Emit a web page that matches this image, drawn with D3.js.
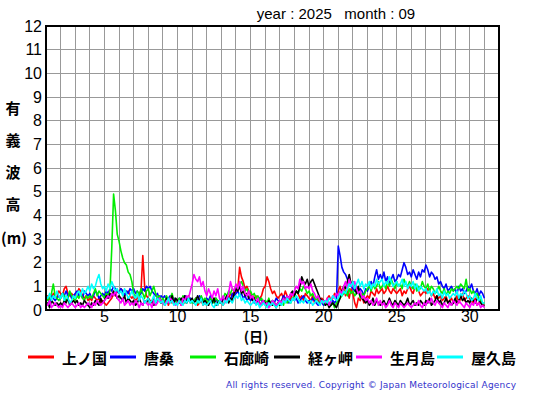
<!DOCTYPE html>
<html><head><meta charset="utf-8">
<script src="https://cdn.jsdelivr.net/npm/d3@7"></script>
<style>body{margin:0;background:#fff}svg{display:block}</style>
</head><body>
<svg id="c" width="555" height="395"></svg>
<script>
const stations = ["上ノ国","唐桑","石廊崎","経ヶ岬","生月島","屋久島"];
const colors = ["#ff0000","#0000ff","#00ee00","#000000","#ff00ff","#00ffff"];
const xTicks = [5,10,15,20,25,30];
const yTicks = [0,1,2,3,4,5,6,7,8,9,10,11,12];
const stepsPerDay = 8;
// significant wave height (m), every 3 hours from day 1 00h
const kaminokuni = [
.5,.6,.4,.5,.7,.6,.5,.8, .7,.6,.9,1.0,.7,.6,.7,.6, .6,.7,.9,.8,.6,.5,.6,.4, .5,.4,.6,.5,.4,.5,.3,.4,
.3,.2,.3,.4,.5,.7,.6,.8, .7,.9,.8,.6,.7,.8,.6,.5, .6,.4,.5,.7,.8,2.3,1.0,.6, .5,.4,.3,.5,.2,.4,.6,.3,
.4,.3,.5,.2,.4,.3,.5,.4, .3,.4,.2,.5,.3,.4,.6,.3, .4,.3,.5,.2,.3,.4,.2,.3, .2,.3,.4,.3,.5,.3,.2,.4,
.3,.2,.4,.6,.5,.7,.6,.8, .7,.9,1.8,1.4,1.2,.9,1.0,.8, .7,.6,.5,.6,.4,.5,.6,.9, 1.0,1.4,1.2,.9,.7,.8,.6,.5,
.6,.7,.5,.8,.6,.4,.5,.7, .6,.8,.7,.5,.6,.4,.7,.6, .5,.4,.6,.3,.5,.4,.3,.5, .4,.3,.5,.6,.4,.5,.7,.6,
.8,1.0,.7,.9,.6,.8,.5,.9, .7,.3,.1,.5,.4,.6,.3,.5, .6,.5,.8,.7,.6,.9,.7,.8, .9,.7,.8,1.0,.8,.7,.9,.8,
.7,.8,.9,.6,.8,.7,.9,1.0, .8,.7,1.0,.9,.8,.6,.7,.8, .7,.9,.8,.6,.7,.5,.6,.5, .6,.4,.5,.6,.3,.4,.5,.3,
.4,.6,.3,.5,.7,.4,.5,.6, .5,.4,.3,.5,.2,.3,.4,.2, .2];
const karakuwa = [
.4,.5,.3,.6,.5,.4,.5,.6, .5,.7,.6,.8,.6,.7,.5,.6, .7,.8,.6,.7,.5,.8,.7,.6, .7,.5,.6,.8,.7,.5,.6,.7,
.6,.8,.7,.9,.8,1.0,.9,.8, .7,.9,.8,.6,.8,.7,.9,.8, .9,.7,.8,.6,.7,.9,.8,1.0, .9,1.0,.8,.7,.6,.7,.5,.6,
.5,.6,.4,.5,.6,.4,.5,.3, .4,.5,.3,.4,.6,.5,.4,.5, .4,.3,.5,.4,.6,.5,.4,.3, .5,.4,.6,.3,.4,.5,.3,.4,
.3,.5,.4,.6,.5,.4,.7,.6, .7,.8,.6,.7,.5,.6,.4,.5, .4,.5,.3,.4,.3,.5,.4,.3, .4,.3,.2,.3,.4,.3,.5,.4,
.3,.4,.6,.5,.4,.3,.4,.5, .4,.5,.3,.4,.5,.6,.4,.3, .4,.3,.5,.4,.3,.2,.4,.3, .2,.3,.4,.3,.2,.4,.3,.4,
2.7,2.3,1.8,1.6,1.5,1.3,1.1,1.0, .9,.8,1.0,.7,.9,.8,.6,.9, .8,1.0,1.2,1.0,1.4,1.7,1.3,1.5, 1.3,1.6,1.2,1.4,1.1,1.3,1.5,1.2,
1.3,1.5,1.4,1.7,2.0,1.8,1.5,1.6, 1.4,1.7,1.5,1.3,1.6,1.4,1.7,1.6, 1.9,1.7,1.4,1.6,1.5,1.3,1.4,1.1, 1.2,1.0,.9,1.1,.8,.9,1.0,.8,
.9,.7,1.0,.8,.9,.7,.8,1.0, .9,1.1,.8,.7,.9,.6,.8,.7, .5];
const irozaki = [
.6,.4,.5,.7,1.1,.6,.5,.4, .5,.7,.6,.4,.5,.8,.6,.5, .4,.6,.5,.7,.5,.4,.6,.5, .6,.5,.7,.9,.6,.8,.7,.6,
.5,.7,.6,.8,2.6,4.9,4.2,3.2, 2.9,2.5,2.2,2.0,1.9,1.6,1.5,1.2, .7,.5,.8,.6,.9,.7,.5,.8, .9,.6,.8,1.0,.7,.5,.6,.4,
.5,.3,.6,.4,.5,.7,.4,.3, .4,.5,.3,.6,.4,.3,.5,.4, .3,.4,.5,.3,.4,.6,.4,.5, .4,.3,.5,.4,.3,.5,.4,.3,
.4,.5,.7,.6,.8,.7,.9,.8, 1.0,.9,1.1,1.2,1.0,.8,.9,.7, .8,.6,.7,.5,.6,.4,.5,.3, .4,.3,.5,.2,.4,.3,.2,.3,
.3,.4,.2,.5,.3,.4,.3,.5, .6,.8,.7,.9,.8,1.0,.9,.7, .8,.6,.7,.5,.4,.6,.3,.4, .3,.2,.4,.3,.2,.3,.1,.3,
.4,.5,.6,.7,.8,.6,.9,.7, .8,.6,.7,.9,.5,.7,.6,.8, .9,1.0,.8,1.1,.9,1.0,1.2,.9, 1.0,1.1,.9,1.2,1.0,1.3,1.1,.9,
1.2,1.0,1.1,.9,1.3,1.1,1.0,1.2, 1.0,.9,1.1,.8,1.0,.9,1.2,1.0, .9,1.1,.8,1.0,.9,.7,.8,1.0, .8,.7,.9,.6,.8,.7,.9,.8,
.9,1.0,.9,1.1,1.0,.9,1.3,.8, .9,.7,.8,.6,.7,.5,.4,.3, .3];
const kyogamisaki = [
.2,.3,.1,.4,.3,.2,.3,.2, .3,.2,.4,.3,.5,.2,.3,.4, .3,.4,.2,.3,.2,.4,.3,.2, .1,.3,.2,.4,.3,.2,.5,.3,
.4,.6,.5,.7,.6,.8,.7,.5, .6,.5,.4,.6,.3,.5,.4,.3, .4,.2,.3,.5,.3,.2,.4,.3, .5,.3,.4,.2,.3,.5,.4,.3,
.4,.2,.5,.3,.4,.6,.3,.5, .4,.3,.5,.4,.6,.3,.5,.4, .5,.3,.4,.6,.4,.5,.3,.4, .3,.2,.4,.3,.5,.2,.3,.4,
.3,.5,.4,.6,.3,.5,.4,.7, .9,.8,1.0,.7,.8,.6,.7,.5, .6,.4,.5,.3,.4,.3,.2,.4, .3,.2,.4,.3,.2,.3,.1,.3,
.2,.3,.5,.4,.6,.5,.7,.8, .6,.8,.7,1.0,1.4,1.2,1.1,1.3, 1.0,1.2,1.3,1.1,.9,.7,.5,.4, .4,.2,.3,.1,.2,.3,.2,.1,
.3,.5,.8,1.0,.9,1.2,1.5,1.1, 1.2,.9,.7,1.0,.6,.5,.4,.3, .4,.2,.3,.5,.2,.4,.3,.2, .3,.4,.2,.3,.5,.3,.2,.4,
.3,.2,.4,.3,.2,.3,.5,.2, .3,.4,.2,.3,.2,.4,.3,.2, .4,.3,.5,.2,.3,.4,.6,.3, .4,.2,.3,.5,.3,.4,.2,.3,
.5,.3,.4,.6,.4,.5,.3,.4, .3,.5,.4,.3,.5,.4,.3,.2, .2];
const ikitsukishima = [
.3,.2,.4,.1,.2,.3,.2,.1, .2,.1,.3,.2,.1,.2,.3,.2, .1,.2,.3,.1,.2,.1,.2,.3, .2,.1,.3,.2,.4,.3,.2,.3,
.4,.5,.6,.5,.7,.6,.8,.5, .4,.3,.5,.2,.3,.4,.2,.3, .2,.4,.3,.1,.3,.2,.4,.3, .2,.3,.1,.4,.2,.3,.5,.4,
.3,.2,.4,.3,.5,.4,.3,.2, .3,.4,.2,.5,.4,.6,.5,.8, 1.1,1.5,1.3,1.2,1.4,1.0,1.2,.8, .6,.9,.7,.5,.8,.6,.9,.5,
.4,.6,.3,.5,.7,1.2,.9,.8, 1.1,.9,1.2,.8,1.0,.7,.6,.8, .5,.6,.4,.3,.5,.2,.3,.4, .2,.3,.1,.2,.4,.3,.2,.3,
.4,.3,.5,.4,.6,.5,.7,.6, .8,1.0,.9,1.3,1.1,1.2,.9,1.0, .9,1.1,.8,.7,.5,.6,.4,.3, .4,.3,.5,.2,.4,.6,.5,.7,
.6,.8,.7,1.0,1.2,.9,1.3,1.1, 1.0,1.2,.9,.7,.8,.5,.6,.4, .5,.3,.4,.2,.3,.5,.2,.4, .2,.3,.1,.2,.4,.2,.1,.3,
.2,.1,.3,.2,.1,.2,.3,.2, .1,.2,.3,.2,.4,.2,.1,.3, .2,.4,.3,.5,.3,.2,.4,.3, .2,.1,.3,.2,.1,.3,.2,.4,
.3,.2,.4,.3,.2,.1,.3,.2, .1,.3,.2,.4,.2,.3,.1,.2, .1];
const yakushima = [
.6,.5,.7,.4,.6,.5,.8,.6, .5,.7,.4,.6,.5,.3,.4,.6, .5,.7,.8,.6,.9,.7,.8,1.0, .8,1.1,.9,1.0,1.3,1.5,1.1,.9,
1.0,.8,1.1,.9,1.2,1.0,.8,.9, .7,.8,.6,.9,.7,.5,.6,.8, .6,.5,.7,.4,.6,.5,.3,.4, .5,.3,.4,.6,.3,.5,.4,.3,
.4,.2,.3,.5,.3,.4,.2,.3, .2,.4,.3,.2,.4,.3,.5,.3, .4,.3,.2,.4,.3,.5,.2,.3, .2,.3,.4,.2,.1,.3,.2,.4,
.3,.2,.4,.3,.5,.4,.3,.5, .6,.5,.7,.4,.5,.3,.4,.3, .2,.3,.4,.2,.3,.1,.2,.3, .2,.1,.3,.2,.3,.2,.1,.2,
.3,.2,.4,.3,.5,.4,.3,.5, .4,.6,.5,.3,.4,.3,.5,.4, .3,.4,.2,.3,.4,.3,.2,.4, .3,.4,.3,.5,.4,.6,.5,.4,
.5,.7,.6,.8,.7,.9,1.1,1.0, 1.2,.9,1.1,1.3,1.0,1.2,.9,1.1, 1.0,1.2,.9,1.1,1.0,1.3,1.1,1.2, 1.3,1.0,1.2,1.1,1.4,1.2,1.0,1.1,
1.2,1.0,1.1,1.3,1.0,1.2,.9,1.1, 1.0,1.2,.9,1.1,.8,1.0,.9,.8, .9,.7,.8,.6,.8,.7,.9,.6, .7,.5,.8,.6,.7,.5,.6,.7,
.6,.8,.5,.7,.6,.8,.7,.5, .6,.4,.5,.7,.5,.4,.6,.3, .3];
const seriesData = [kaminokuni, karakuwa, irozaki, kyogamisaki, ikitsukishima, yakushima];

const svg = d3.select("#c");
const L = 46, R = 499, T = 26, B = 310;
const x = d3.scaleLinear().domain([1, 32]).range([L, R]);
const y = d3.scaleLinear().domain([0, 12]).range([B, T]);
const sans = "'Liberation Sans', Arial, sans-serif";
const jp = "'Noto Sans CJK JP', sans-serif";

// grid
const g = svg.append("g");
g.selectAll("line.v").data(d3.range(2, 32)).join("line")
  .attr("x1", d => x(d)).attr("x2", d => x(d)).attr("y1", T).attr("y2", B)
  .attr("stroke", "#999").attr("stroke-width", 1).attr("shape-rendering", "crispEdges");
g.selectAll("line.h").data(d3.range(1, 12)).join("line")
  .attr("y1", d => y(d)).attr("y2", d => y(d)).attr("x1", L).attr("x2", R)
  .attr("stroke", "#999").attr("stroke-width", 1).attr("shape-rendering", "crispEdges");

// lines
const line = d3.line().x((d, i) => x(1 + i / stepsPerDay)).y(d => y(d));
const plot = svg.append("g");
seriesData.forEach((s, k) => {
  plot.append("path").datum(s).attr("d", line).attr("fill", "none")
    .attr("stroke", colors[k]).attr("stroke-width", 1.6).attr("stroke-linejoin", "round");
});

// frame
svg.append("rect").attr("x", L).attr("y", T).attr("width", R - L).attr("height", B - T)
  .attr("fill", "none").attr("stroke", "#000").attr("stroke-width", 2);

// axes labels
svg.append("g").selectAll("text").data(yTicks).join("text")
  .attr("x", 42).attr("y", d => y(d)).attr("dy", "0.36em").attr("text-anchor", "end")
  .attr("font-family", sans).attr("font-size", 16).text(d => d);
svg.append("g").selectAll("text").data(xTicks).join("text")
  .attr("x", d => x(d)).attr("y", 322).attr("text-anchor", "middle")
  .attr("font-family", sans).attr("font-size", 16).text(d => d);

svg.append("text").attr("x", 256).attr("y", 342).attr("text-anchor", "middle")
  .attr("font-family", jp).attr("font-size", 14).attr("font-weight", 700).text("(日)");

const yTitle = ["有","義","波","高"];
svg.append("g").selectAll("text").data(yTitle).join("text")
  .attr("x", 13).attr("y", (d, i) => 114 + i * 32).attr("text-anchor", "middle")
  .attr("font-family", jp).attr("font-size", 15).attr("font-weight", 700).text(d => d);
svg.append("text").attr("x", 14).attr("y", 244).attr("text-anchor", "middle")
  .attr("font-family", jp).attr("font-size", 15).attr("font-weight", 700).text("(m)");

svg.append("text").attr("x", 336).attr("y", 19).attr("text-anchor", "middle")
  .attr("font-family", sans).attr("font-size", 15).attr("xml:space", "preserve")
  .text("year : 2025   month : 09");

// legend
const lx = [28, 110, 190, 274, 356, 437];
const lg = svg.append("g");
stations.forEach((s, k) => {
  lg.append("line").attr("x1", lx[k]).attr("x2", lx[k] + 26).attr("y1", 357).attr("y2", 357)
    .attr("stroke", colors[k]).attr("stroke-width", 3);
  lg.append("text").attr("x", lx[k] + 34).attr("y", 364)
    .attr("font-family", jp).attr("font-size", 15).attr("font-weight", 700).text(s);
});

svg.append("text").attr("x", 226).attr("y", 388)
  .attr("font-family", "'DejaVu Sans', sans-serif").attr("font-size", 9)
  .attr("textLength", 290).attr("lengthAdjust", "spacing")
  .attr("fill", "#3333cc").text("All rights reserved. Copyright © Japan Meteorological Agency");
</script>
</body></html>
